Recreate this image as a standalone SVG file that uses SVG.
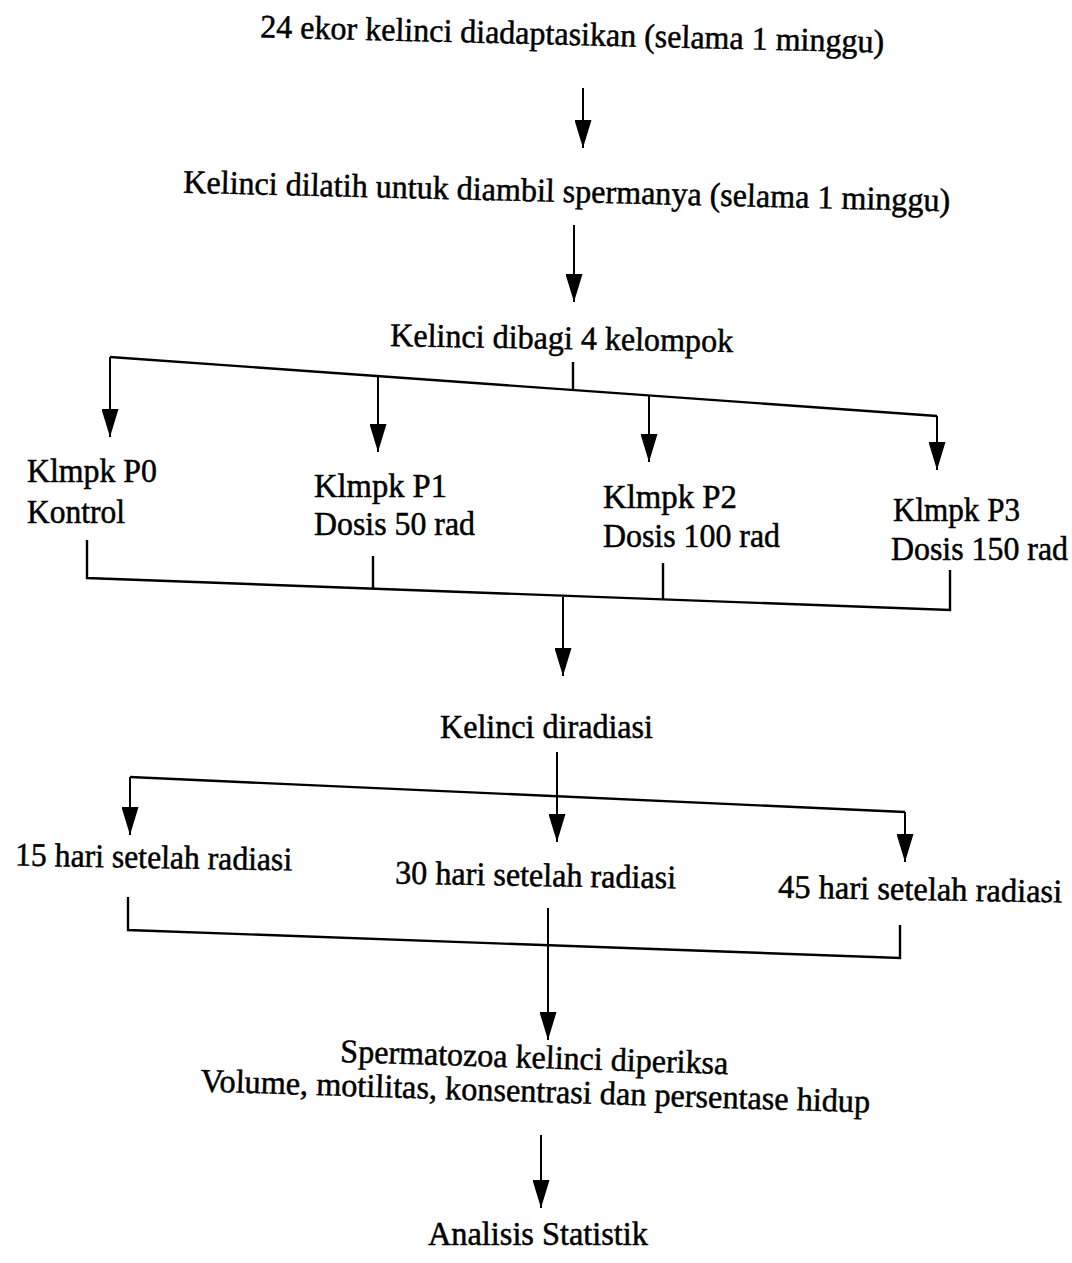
<svg xmlns="http://www.w3.org/2000/svg" width="1072" height="1263" viewBox="0 0 1072 1263">
<defs>
<marker id="ah" viewBox="0 0 28 17" refX="28" refY="8.5" markerWidth="28" markerHeight="17" markerUnits="userSpaceOnUse" orient="auto">
<path d="M0,0 L28,8.5 L0,17 Z" fill="#000"/>
</marker>
<style>
text{font-family:"Liberation Serif","Times New Roman",serif;font-size:33px;fill:#000;stroke:#000;stroke-width:0.5}
.ln{fill:none;stroke:#000;stroke-width:2.4}
.ar{fill:none;stroke:#000;stroke-width:2}
</style>
</defs>
<rect width="1072" height="1263" fill="#fff"/>
<g id="connectors">
<line class="ar" x1="583" y1="88" x2="583" y2="148" marker-end="url(#ah)"/>
<line class="ar" x1="574" y1="225" x2="574" y2="302" marker-end="url(#ah)"/>
<line class="ln" x1="573" y1="362" x2="573" y2="391"/>
<polyline class="ln" points="110,357 937,416"/>
<line class="ar" x1="110" y1="357" x2="110" y2="437" marker-end="url(#ah)"/>
<line class="ar" x1="378" y1="376" x2="378" y2="452" marker-end="url(#ah)"/>
<line class="ar" x1="649" y1="395" x2="649" y2="462" marker-end="url(#ah)"/>
<line class="ar" x1="937" y1="416" x2="937" y2="470" marker-end="url(#ah)"/>
<polyline class="ln" points="87,540 87,578 950,610 950,570"/>
<line class="ln" x1="373" y1="556" x2="373" y2="589"/>
<line class="ln" x1="663" y1="563" x2="663" y2="600"/>
<line class="ar" x1="563" y1="597" x2="563" y2="676" marker-end="url(#ah)"/>
<polyline class="ln" points="130,777 905,812"/>
<line class="ar" x1="130" y1="777" x2="130" y2="835" marker-end="url(#ah)"/>
<line class="ar" x1="557" y1="752" x2="557" y2="842" marker-end="url(#ah)"/>
<line class="ar" x1="905" y1="812" x2="905" y2="862" marker-end="url(#ah)"/>
<polyline class="ln" points="128,897 128,930 900,958 900,925"/>
<line class="ar" x1="548" y1="908" x2="548" y2="1040" marker-end="url(#ah)"/>
<line class="ar" x1="541" y1="1135" x2="541" y2="1208" marker-end="url(#ah)"/>
</g>
<g id="n1"><text x="260" y="45" textLength="624" lengthAdjust="spacingAndGlyphs" transform="rotate(1.4 572 45)">24 ekor kelinci diadaptasikan (selama 1 minggu)</text></g>
<g id="n2"><text x="183" y="202" textLength="767" lengthAdjust="spacingAndGlyphs" transform="rotate(1.4 566 202)">Kelinci dilatih untuk diambil spermanya (selama 1 minggu)</text></g>
<g id="n3"><text x="390" y="349" textLength="343" lengthAdjust="spacingAndGlyphs" transform="rotate(1 561 349)">Kelinci dibagi 4 kelompok</text></g>
<g id="p0"><text x="27" y="482" textLength="130" lengthAdjust="spacingAndGlyphs">Klmpk P0</text><text x="27" y="523" textLength="98" lengthAdjust="spacingAndGlyphs">Kontrol</text></g>
<g id="p1"><text x="314" y="497" textLength="133" lengthAdjust="spacingAndGlyphs">Klmpk P1</text><text x="314" y="535" textLength="161" lengthAdjust="spacingAndGlyphs">Dosis 50 rad</text></g>
<g id="p2"><text x="603" y="508" textLength="134" lengthAdjust="spacingAndGlyphs">Klmpk P2</text><text x="603" y="547" textLength="177" lengthAdjust="spacingAndGlyphs">Dosis 100 rad</text></g>
<g id="p3"><text x="893" y="521" textLength="127" lengthAdjust="spacingAndGlyphs">Klmpk P3</text><text x="891" y="560" textLength="177" lengthAdjust="spacingAndGlyphs">Dosis 150 rad</text></g>
<g id="n4"><text x="440" y="738" textLength="213" lengthAdjust="spacingAndGlyphs">Kelinci diradiasi</text></g>
<g id="h15"><text x="15" y="868" textLength="277" lengthAdjust="spacingAndGlyphs" transform="rotate(1 153 868)">15 hari setelah radiasi</text></g>
<g id="h30"><text x="395" y="886" textLength="281" lengthAdjust="spacingAndGlyphs" transform="rotate(1 535 886)">30 hari setelah radiasi</text></g>
<g id="h45"><text x="778" y="900" textLength="284" lengthAdjust="spacingAndGlyphs" transform="rotate(1 920 900)">45 hari setelah radiasi</text></g>
<g id="n5"><text x="340" y="1068" textLength="388" lengthAdjust="spacingAndGlyphs" transform="rotate(1.8 534 1068)">Spermatozoa kelinci diperiksa</text><text x="200" y="1102" textLength="670" lengthAdjust="spacingAndGlyphs" transform="rotate(1.8 535 1102)">Volume, motilitas, konsentrasi dan persentase hidup</text></g>
<g id="n6"><text x="428" y="1245" textLength="220" lengthAdjust="spacingAndGlyphs">Analisis Statistik</text></g>
</svg>
